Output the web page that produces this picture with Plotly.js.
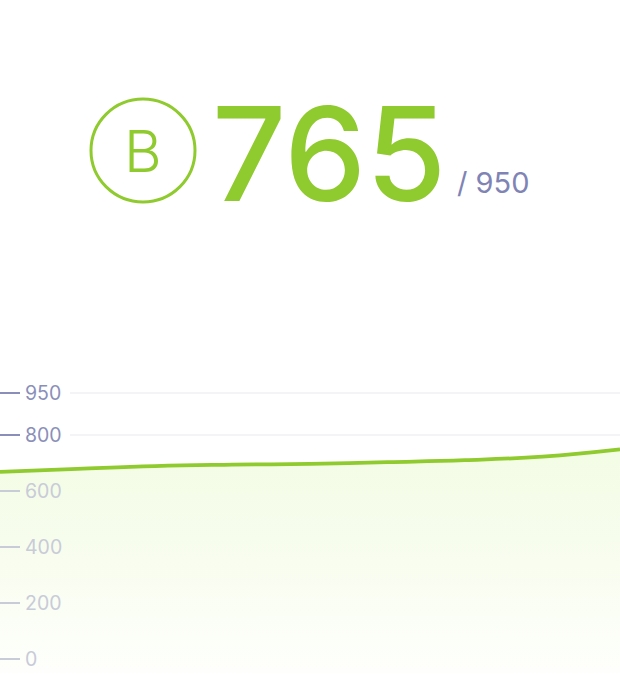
<!DOCTYPE html>
<html>
<head>
<meta charset="utf-8">
<script src="https://cdn.plot.ly/plotly-3.0.1.min.js"></script>
<style>html,body{margin:0;padding:0;background:#fff;}#chart{width:620px;height:690px;}</style>
</head>
<body>
<div id="chart"></div>
<script>
// ---- data ----
const periods = ['P1','P2','P3','P4','P5','P6','P7','P8','P9'];
const scores = [668, 679, 689, 694, 697, 703, 710, 723, 749];
const floorValue = -50;
const floorLine = periods.map(() => floorValue);
const tickValues = [0, 200, 400, 600, 800, 950];
const tickLabels = ['0', '200', '400', '600', '800', '950'];
const highlightTicks = [800, 950];
const currentScore = '765';
const maxScore = '/ 950';
const grade = 'B';

// ---- style ----
const GREEN = '#8fca2e';
const PURPLE = '#8a8fb9';
const LIGHT = '#c8cbd8';
const GRID = '#f0f0f5';
const FONT = 'Inter, "Open Sans", sans-serif';

const H = 690, T = 379, B = 17, PH = H - T - B;
const py = p => (H - B - p) / PH; // pixel y -> paper y

const traces = [
  {x: periods, y: floorLine, mode: 'lines', line: {width: 0, color: 'rgba(0,0,0,0)'},
   hoverinfo: 'skip', showlegend: false},
  {x: periods, y: scores, mode: 'lines', fill: 'tonexty',
   line: {color: GREEN, width: 3.8, shape: 'spline', smoothing: 1.3},
   fillcolor: '#f5fde9',
   fillgradient: {type: 'vertical', start: floorValue, stop: scores[scores.length-1],
     colorscale: [[0, '#fefffc'], [0.5, '#f8fdef'], [1, '#f3fce5']]},
   hoverinfo: 'skip', showlegend: false}
];

const shapes = [];
const annotations = [];
tickValues.forEach((v, i) => {
  const hl = highlightTicks.includes(v);
  const c = hl ? PURPLE : LIGHT;
  shapes.push({type: 'line', xref: 'paper', yref: 'y', x0: 70/620, x1: 1, y0: v, y1: v,
    line: {color: GRID, width: 1.5}, layer: 'below'});
  shapes.push({type: 'line', xref: 'paper', yref: 'y', x0: 0, x1: 20/620, y0: v, y1: v,
    line: {color: c, width: 2}, layer: 'above'});
  annotations.push({xref: 'paper', yref: 'y', x: 23/620, y: v, xanchor: 'left', yanchor: 'middle',
    text: tickLabels[i], showarrow: false, font: {family: FONT, size: 19.5, color: c}});
});

// header
shapes.push({type: 'circle', xref: 'paper', yref: 'paper',
  x0: 91/620, x1: 195/620, y0: py(202), y1: py(99), line: {color: GREEN, width: 3}});
annotations.push({xref: 'paper', yref: 'paper', x: 143/620, y: py(151), xanchor: 'center', yanchor: 'middle',
  text: grade, showarrow: false, font: {family: FONT, size: 58, color: GREEN, weight: 300}});
annotations.push({xref: 'paper', yref: 'paper', x: 210/620, y: py(153), xanchor: 'left', yanchor: 'middle',
  text: currentScore, showarrow: false, font: {family: FONT, size: 130, color: GREEN, weight: 500}});
annotations.push({xref: 'paper', yref: 'paper', x: 455/620, y: py(183), xanchor: 'left', yanchor: 'middle',
  text: maxScore, showarrow: false, font: {family: FONT, size: 29, color: '#7f84b5'}});

const layout = {
  width: 620, height: 690,
  margin: {l: 0, r: 0, t: T, b: B, pad: 0},
  paper_bgcolor: '#fff', plot_bgcolor: 'rgba(0,0,0,0)',
  xaxis: {visible: false, range: [0, periods.length - 1], fixedrange: true},
  yaxis: {visible: false, range: [floorValue, 1000], fixedrange: true, showgrid: false, zeroline: false},
  shapes: shapes, annotations: annotations, showlegend: false
};

Plotly.newPlot('chart', traces, layout, {displayModeBar: false, staticPlot: true});
</script>
</body>
</html>
